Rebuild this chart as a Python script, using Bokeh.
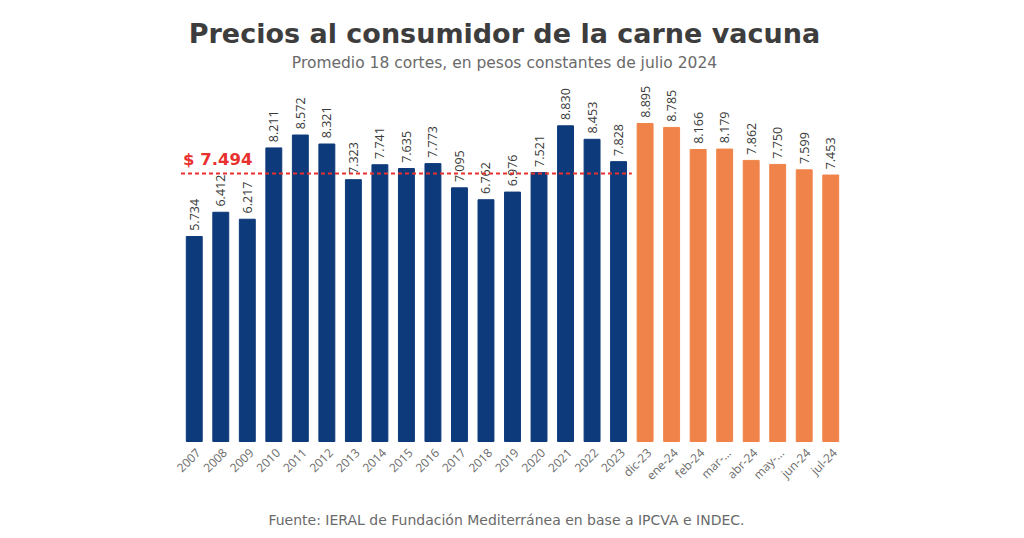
import math
from bokeh.plotting import figure
from bokeh.models import ColumnDataSource, Label, FactorRange, Range1d
from bokeh.core.properties import value
from bokeh.embed import file_html
from bokeh.resources import INLINE

years = ["2007", "2008", "2009", "2010", "2011", "2012", "2013", "2014", "2015",
         "2016", "2017", "2018", "2019", "2020", "2021", "2022", "2023"]
year_values = [5734, 6412, 6217, 8211, 8572, 8321, 7323, 7741, 7635,
               7773, 7095, 6762, 6976, 7521, 8830, 8453, 7828]
months = ["dic-23", "ene-24", "feb-24", "mar-...", "abr-24", "may-...", "jun-24", "jul-24"]
month_values = [8895, 8785, 8166, 8179, 7862, 7750, 7599, 7453]
average_value = 7494
average_label = "$ 7.494"

title = "Precios al consumidor de la carne vacuna"
subtitle = "Promedio 18 cortes, en pesos constantes de julio 2024"
footer = "Fuente: IERAL de Fundación Mediterránea en base a IPCVA e INDEC."

NAVY = "#0d3a7a"
ORANGE = "#f0834a"
RED = "#e8312f"

cats = years + months
vals = year_values + month_values
colors = [NAVY] * len(years) + [ORANGE] * len(months)


def fmt(v):
    return f"{v:,}".replace(",", ".")


src = ColumnDataSource(dict(
    x=cats, top=vals, color=colors,
    label=[fmt(v) for v in vals],
    ly=[v + 160 for v in vals],
    zero=[0] * len(cats),
))

W, H = 1024, 538
BAR_LEFT, BAR_RIGHT, BASE = 182, 845, 441
px_per_cat = (BAR_RIGHT - BAR_LEFT) / len(cats)
pad = (BAR_LEFT + (W - BAR_RIGHT)) / 2 / px_per_cat  # applied on each side
units_per_px = 27.97
y_start = -(H - BASE) * units_per_px
y_end = BASE * units_per_px

p = figure(width=W, height=H,
           x_range=FactorRange(*cats, range_padding=pad, range_padding_units="absolute"),
           y_range=Range1d(y_start, y_end), output_backend="svg", toolbar_location=None,
           min_border=0, outline_line_color=None)
p.background_fill_color = "white"
p.border_fill_color = "white"
p.axis.visible = False
p.grid.visible = False

p.vbar(x="x", top="top", width=0.6, color="color", source=src)
p.text(x="x", y="ly", text="label", source=src, angle=math.pi / 2,
       text_align="left", text_baseline="middle", text_font_size="12.5px",
       text_color="#3a3a3a", text_font=value("Open Sans"))

# category labels (axis-like), rotated 45 degrees
p.text(x="x", y="zero", text="x", source=src, angle=math.pi / 4,
       text_align="right", text_baseline="middle", text_font_size="12px",
       text_color="#6b6b6b", text_font=value("Open Sans"), x_offset=4, y_offset=9)

# average line
p.segment(x0=[0], y0=[average_value], x1=[len(years)], y1=[average_value],
          line_color=RED, line_width=2, line_dash="4 3")
p.add_layout(Label(x=0, y=average_value, text=average_label, text_color=RED,
                   text_font_style="bold", text_font_size="16.5px",
                   text_font="DejaVu Sans", x_offset=2, y_offset=5))


def add_text(text, cx, cy, size, color, bold=False, font="DejaVu Sans"):
    p.add_layout(Label(x=cx, y=H - cy, x_units="screen", y_units="screen",
                       text=text, text_align="center", text_baseline="middle",
                       text_font_size=size, text_font_style="bold" if bold else "normal",
                       text_font=font, text_color=color))


add_text(title, 504, 33, "27px", "#3d3d3d", bold=True)
add_text(subtitle, 504, 62, "15.5px", "#6a6a6a")
add_text(footer, 506, 519, "14px", "#6a6a6a")

open("out.html", "w").write(file_html(p, INLINE))
